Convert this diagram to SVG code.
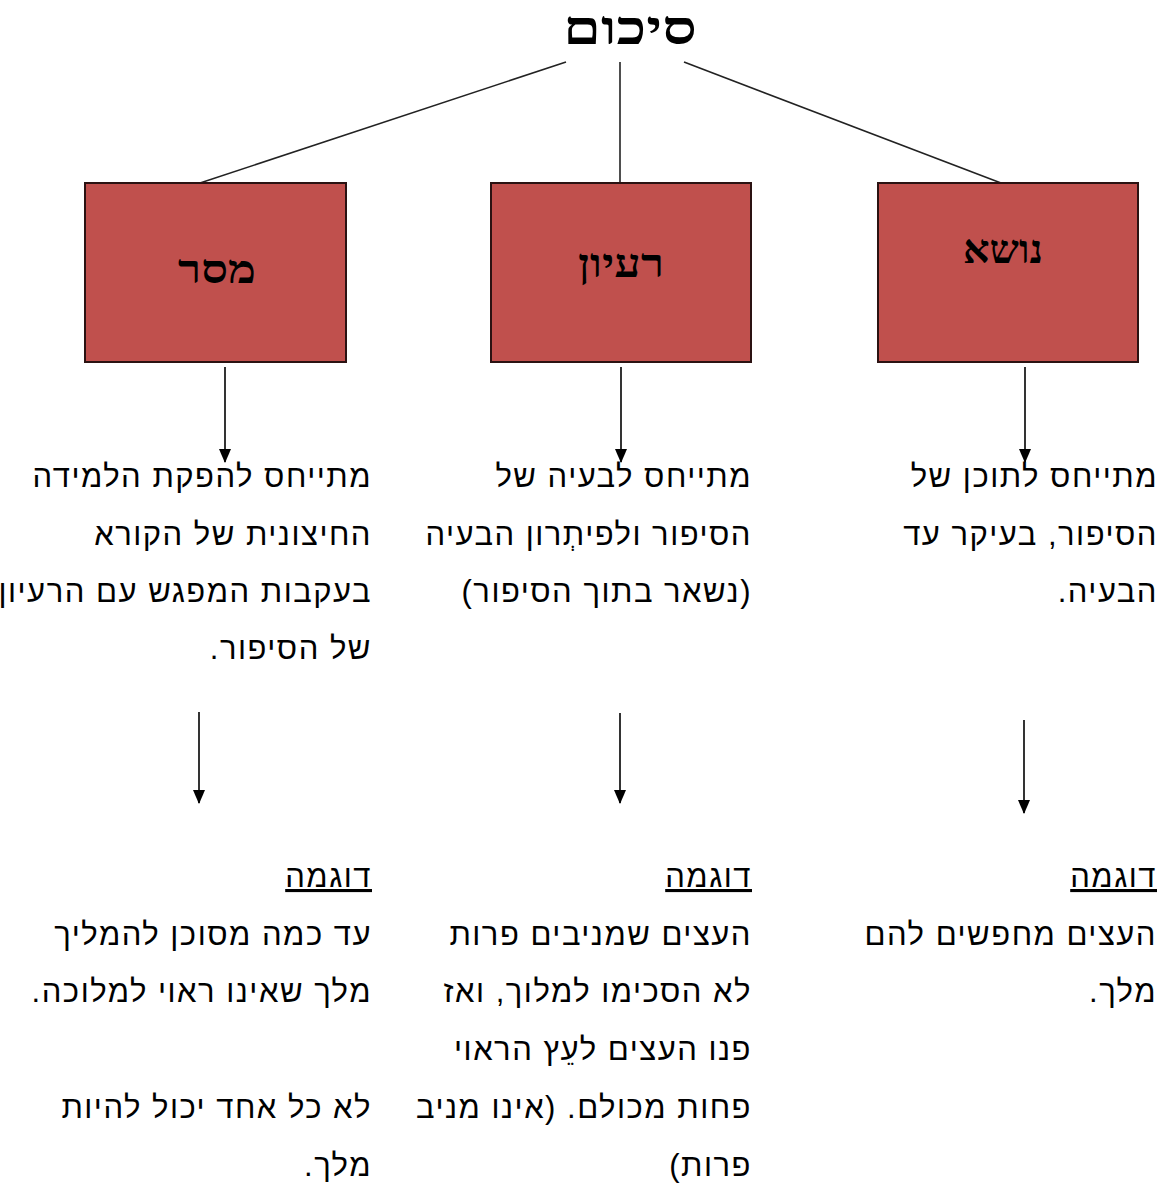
<svg xmlns="http://www.w3.org/2000/svg" width="1166" height="1183" viewBox="0 0 1166 1183">
<style>
.title{font-family:"Liberation Serif","DejaVu Serif",serif;font-weight:bold;font-size:47px;fill:#000;}
.lbl{font-family:"Liberation Serif","DejaVu Serif",serif;font-weight:bold;font-size:40px;fill:#000;}
.box{fill:#C0504D;stroke:#2b1212;stroke-width:2;}
.ln{stroke:#222;stroke-width:1.6;fill:none;}
.arr{stroke:#000;stroke-width:1.6;fill:none;marker-end:url(#ah);}
.t{font-family:"Liberation Sans","DejaVu Sans",sans-serif;font-size:31px;letter-spacing:1.5px;fill:#000;}
.u{text-decoration:underline;}
</style>
<defs>
<marker id="ah" viewBox="0 0 14 12" refX="13" refY="6" markerWidth="14" markerHeight="12" orient="auto" markerUnits="userSpaceOnUse">
<path d="M0,0 L14,6 L0,12 Z" fill="#000"/>
</marker>
</defs>
<g id="title"><text class="title" x="630" y="44" text-anchor="middle" direction="rtl" textLength="134" lengthAdjust="spacingAndGlyphs">סיכום</text></g>
<g id="connectors">
<line class="ln" x1="566" y1="62" x2="200" y2="183"/>
<line class="ln" x1="620" y1="62" x2="620" y2="183"/>
<line class="ln" x1="684" y1="62" x2="1001" y2="183"/>
<line class="arr" x1="225" y1="367" x2="225" y2="462"/>
<line class="arr" x1="621" y1="367" x2="621" y2="462"/>
<line class="arr" x1="1025" y1="367" x2="1025" y2="462"/>
<line class="arr" x1="199" y1="712" x2="199" y2="803"/>
<line class="arr" x1="620" y1="713" x2="620" y2="803"/>
<line class="arr" x1="1024" y1="720" x2="1024" y2="813"/>
</g>
<g id="node-meser"><rect class="box" x="85" y="183" width="261" height="179"/><text class="lbl" x="217" y="283" text-anchor="middle" direction="rtl" textLength="78" lengthAdjust="spacingAndGlyphs">מסר</text></g>
<g id="node-raayon"><rect class="box" x="491" y="183" width="260" height="179"/><text class="lbl" x="621" y="277" text-anchor="middle" direction="rtl" textLength="86" lengthAdjust="spacingAndGlyphs">רעיון</text></g>
<g id="node-nose"><rect class="box" x="878" y="183" width="260" height="179"/><text class="lbl" x="1003" y="263" text-anchor="middle" direction="rtl" textLength="80" lengthAdjust="spacingAndGlyphs">נושא</text></g>
<g id="desc-nose">
<text class="t" x="1158" y="487" direction="rtl">מתייחס לתוכן של</text>
<text class="t" x="1158" y="545" direction="rtl">הסיפור, בעיקר עד</text>
<text class="t" x="1158" y="602" direction="rtl">הבעיה.</text>
</g>
<g id="desc-raayon">
<text class="t" x="752" y="487" direction="rtl">מתייחס לבעיה של</text>
<text class="t" x="752" y="545" direction="rtl">הסיפור ולפיתְרון הבעיה</text>
<text class="t" x="752" y="602" direction="rtl">(נשאר בתוך הסיפור)</text>
</g>
<g id="desc-meser">
<text class="t" x="372" y="487" direction="rtl">מתייחס להפקת הלמידה</text>
<text class="t" x="372" y="545" direction="rtl">החיצונית של הקורא</text>
<text class="t" x="372" y="602" direction="rtl">בעקבות המפגש עם הרעיון</text>
<text class="t" x="372" y="659" direction="rtl">של הסיפור.</text>
</g>
<g id="example-nose">
<text class="t u" x="1157" y="887" direction="rtl">דוגמה</text>
<text class="t" x="1157" y="945" direction="rtl">העצים מחפשים להם</text>
<text class="t" x="1157" y="1002" direction="rtl">מלך.</text>
</g>
<g id="example-raayon">
<text class="t u" x="752" y="887" direction="rtl">דוגמה</text>
<text class="t" x="752" y="945" direction="rtl">העצים שמניבים פרות</text>
<text class="t" x="752" y="1002" direction="rtl">לא הסכימו למלוך, ואז</text>
<text class="t" x="752" y="1060" direction="rtl">פנו העצים לעֵץ הראוי</text>
<text class="t" x="752" y="1118" direction="rtl">פחות מכולם. (אינו מניב</text>
<text class="t" x="752" y="1176" direction="rtl">פרות)</text>
</g>
<g id="example-meser">
<text class="t u" x="372" y="887" direction="rtl">דוגמה</text>
<text class="t" x="372" y="945" direction="rtl">עד כמה מסוכן להמליך</text>
<text class="t" x="372" y="1002" direction="rtl">מלך שאינו ראוי למלוכה.</text>
<text class="t" x="372" y="1118" direction="rtl">לא כל אחד יכול להיות</text>
<text class="t" x="372" y="1176" direction="rtl">מלך.</text>
</g>
</svg>
